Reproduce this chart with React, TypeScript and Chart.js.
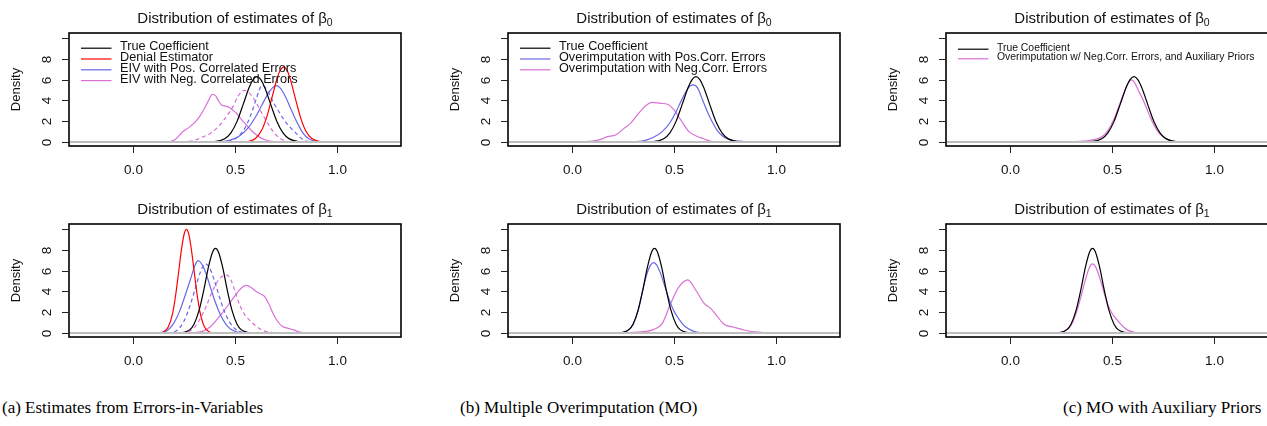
import React, { useEffect, useRef } from "react";
import { Chart, registerables } from "chart.js";

Chart.register(...registerables);

type Pt = [number, number];

// ---------- axis ticks ----------
const xTickValues = [0, 0.5, 1.0];
const xTickLabels = ["0.0", "0.5", "1.0"];
const yTickValues = [0, 2, 4, 6, 8, 10];
const yTickLabels = ["0", "2", "4", "6", "8", ""];

// ---------- density curves, beta0 ----------
const trueB0: Pt[] = [
  [0.35, 0], [0.4, 0.03], [0.45, 0.31], [0.48, 0.87], [0.51, 1.98], [0.54, 3.61], [0.57, 5.28],
  [0.59, 6.04], [0.607, 6.27], [0.625, 6.02], [0.645, 5.24], [0.675, 3.57], [0.705, 1.94],
  [0.735, 0.85], [0.765, 0.3], [0.81, 0.04], [0.86, 0],
];
const denialB0: Pt[] = [
  [0.54, 0], [0.56, 0.04], [0.6, 0.34], [0.63, 1.12], [0.655, 2.41], [0.68, 4.24], [0.705, 6.08],
  [0.72, 6.86], [0.737, 7.2], [0.755, 6.84], [0.77, 6.01], [0.795, 4.15], [0.82, 2.34],
  [0.845, 1.08], [0.875, 0.33], [0.92, 0.03], [0.94, 0],
];
const eivPosB0: Pt[] = [
  [0.42, 0], [0.44, 0.03], [0.48, 0.2], [0.52, 0.55], [0.56, 1.25], [0.6, 2.4], [0.63, 3.5],
  [0.66, 4.6], [0.685, 5.25], [0.7, 5.42], [0.72, 5.2], [0.745, 4.4], [0.77, 3.3], [0.79, 2.4],
  [0.81, 1.6], [0.83, 0.9], [0.86, 0.3], [0.9, 0.03], [0.92, 0],
];
const eivPosDashB0: Pt[] = [
  [0.43, 0], [0.45, 0.03], [0.49, 0.2], [0.52, 0.6], [0.55, 1.4], [0.575, 2.5], [0.6, 3.9],
  [0.615, 4.8], [0.63, 5.4], [0.645, 5.3], [0.665, 4.7], [0.69, 3.7], [0.715, 2.9], [0.74, 2.1],
  [0.765, 1.5], [0.79, 1.0], [0.815, 0.5], [0.84, 0.15], [0.87, 0.02], [0.89, 0],
];
const eivNegB0: Pt[] = [
  [0.17, 0], [0.205, 0.19], [0.246, 1.0], [0.279, 1.45], [0.305, 1.9], [0.327, 2.44], [0.35, 3.2],
  [0.368, 3.88], [0.39, 4.58], [0.405, 4.45], [0.417, 4.04], [0.434, 3.56], [0.466, 3.38],
  [0.49, 3.05], [0.507, 2.76], [0.53, 2.2], [0.556, 1.63], [0.58, 1.1], [0.605, 0.67],
  [0.63, 0.35], [0.653, 0.17], [0.69, 0.03], [0.72, 0],
];
const eivNegDashB0: Pt[] = [
  [0.24, 0], [0.26, 0.02], [0.3, 0.15], [0.34, 0.45], [0.38, 0.85], [0.42, 1.5], [0.46, 2.5],
  [0.49, 3.4], [0.515, 4.4], [0.545, 4.95], [0.57, 4.7], [0.6, 3.9], [0.63, 2.8], [0.66, 1.8],
  [0.69, 0.9], [0.72, 0.35], [0.75, 0.08], [0.78, 0.01], [0.8, 0],
];
const moPosB0: Pt[] = [
  [0.29, 0], [0.31, 0.02], [0.36, 0.15], [0.4, 0.45], [0.44, 0.95], [0.48, 1.85], [0.51, 2.9],
  [0.535, 3.95], [0.56, 4.9], [0.58, 5.4], [0.595, 5.48], [0.615, 5.2], [0.64, 4.0],
  [0.665, 2.8], [0.69, 1.8], [0.715, 1.0], [0.745, 0.45], [0.78, 0.18], [0.82, 0.08],
  [0.87, 0.01], [0.9, 0],
];
const moNegB0: Pt[] = [
  [0.0, 0], [0.05, 0.02], [0.109, 0.1], [0.15, 0.3], [0.174, 0.51], [0.215, 0.67], [0.256, 1.31],
  [0.288, 1.79], [0.321, 2.6], [0.362, 3.49], [0.394, 3.81], [0.435, 3.71], [0.468, 3.62],
  [0.5, 3.08], [0.533, 2.12], [0.573, 0.99], [0.606, 0.6], [0.647, 0.29], [0.688, 0.03], [0.73, 0],
];
const auxB0: Pt[] = [
  [0.28, 0], [0.3, 0.02], [0.36, 0.08], [0.41, 0.2], [0.45, 0.5], [0.48, 1.1], [0.51, 2.2],
  [0.535, 3.5], [0.56, 4.8], [0.58, 5.7], [0.595, 5.96], [0.61, 5.7], [0.63, 4.9], [0.655, 3.9],
  [0.68, 2.7], [0.705, 1.6], [0.73, 0.85], [0.76, 0.35], [0.79, 0.12], [0.83, 0.02], [0.86, 0],
];

// ---------- density curves, beta1 ----------
const trueB1: Pt[] = [
  [0.23, 0], [0.25, 0.06], [0.28, 0.32], [0.3, 0.84], [0.325, 2.19], [0.35, 4.33], [0.37, 6.3],
  [0.39, 7.74], [0.405, 8.12], [0.42, 7.74], [0.44, 6.3], [0.46, 4.33], [0.485, 2.19],
  [0.51, 0.84], [0.53, 0.32], [0.56, 0.06], [0.59, 0],
];
const denialB1: Pt[] = [
  [0.13, 0], [0.15, 0.1], [0.175, 0.59], [0.195, 1.83], [0.21, 3.58], [0.225, 5.86], [0.24, 8.2],
  [0.252, 9.51], [0.263, 9.95], [0.275, 9.45], [0.288, 7.9], [0.3, 6.04], [0.315, 3.7],
  [0.33, 1.93], [0.35, 0.63], [0.375, 0.1], [0.4, 0],
];
const eivPosB1: Pt[] = [
  [0.11, 0], [0.13, 0.02], [0.17, 0.25], [0.2, 0.9], [0.23, 2.1], [0.26, 3.8], [0.285, 5.3],
  [0.305, 6.5], [0.32, 6.95], [0.335, 6.7], [0.355, 5.9], [0.38, 4.4], [0.405, 2.9], [0.43, 1.7],
  [0.455, 0.85], [0.48, 0.35], [0.51, 0.08], [0.54, 0],
];
const eivPosDashB1: Pt[] = [
  [0.17, 0], [0.19, 0.03], [0.22, 0.3], [0.25, 1.1], [0.28, 2.6], [0.305, 4.2], [0.33, 5.8],
  [0.355, 6.65], [0.375, 6.3], [0.4, 5.0], [0.425, 3.4], [0.45, 2.0], [0.475, 1.0], [0.5, 0.4],
  [0.53, 0.1], [0.56, 0],
];
const eivNegB1: Pt[] = [
  [0.27, 0], [0.29, 0.02], [0.34, 0.15], [0.38, 0.6], [0.41, 1.25], [0.445, 2.1], [0.475, 2.9],
  [0.515, 3.97], [0.535, 4.4], [0.556, 4.58], [0.58, 4.35], [0.605, 3.95], [0.63, 3.7],
  [0.645, 3.5], [0.665, 2.8], [0.685, 1.9], [0.705, 1.2], [0.73, 0.65], [0.76, 0.45],
  [0.785, 0.3], [0.81, 0.12], [0.84, 0.02], [0.86, 0],
];
const eivNegDashB1: Pt[] = [
  [0.24, 0], [0.26, 0.03], [0.3, 0.5], [0.335, 1.55], [0.36, 2.6], [0.385, 3.8], [0.41, 4.8],
  [0.435, 5.4], [0.458, 5.58], [0.48, 5.1], [0.5, 4.0], [0.525, 2.6], [0.55, 1.7], [0.575, 1.15],
  [0.6, 0.7], [0.63, 0.3], [0.66, 0.1], [0.7, 0],
];
const moPosB1: Pt[] = [
  [0.22, 0], [0.24, 0.03], [0.27, 0.2], [0.3, 0.8], [0.325, 2.2], [0.345, 3.9], [0.365, 5.5],
  [0.385, 6.5], [0.4, 6.76], [0.415, 6.55], [0.435, 5.7], [0.455, 4.5], [0.475, 3.3], [0.5, 2.1],
  [0.525, 1.3], [0.55, 0.7], [0.58, 0.3], [0.61, 0.08], [0.64, 0],
];
const moNegB1: Pt[] = [
  [0.22, 0], [0.24, 0.02], [0.337, 0.1], [0.402, 0.35], [0.443, 0.93], [0.484, 2.85],
  [0.525, 4.45], [0.568, 5.1], [0.606, 4.13], [0.647, 2.85], [0.679, 2.37], [0.712, 1.57],
  [0.744, 0.83], [0.793, 0.55], [0.842, 0.29], [0.891, 0.1], [0.956, 0.02], [0.98, 0],
];
const auxB1: Pt[] = [
  [0.21, 0], [0.23, 0.02], [0.27, 0.2], [0.3, 0.75], [0.325, 1.9], [0.35, 3.6], [0.37, 5.1],
  [0.39, 6.3], [0.405, 6.63], [0.42, 6.35], [0.44, 5.3], [0.46, 3.95], [0.48, 2.7], [0.5, 1.9],
  [0.525, 1.25], [0.55, 0.7], [0.575, 0.3], [0.6, 0.1], [0.64, 0],
];

// ---------- text ----------
const legendA = [
  "True Coefficient",
  "Denial Estimator",
  "EIV with Pos. Correlated Errors",
  "EIV with Neg. Correlated Errors",
];
const legendB = [
  "True Coefficient",
  "Overimputation with Pos.Corr. Errors",
  "Overimputation with Neg.Corr. Errors",
];
const legendC = ["True Coefficient", "Overimputation w/ Neg.Corr. Errors, and Auxiliary Priors"];
const captions = [
  "(a) Estimates from Errors-in-Variables",
  "(b) Multiple Overimputation (MO)",
  "(c) MO with Auxiliary Priors",
];

const BLACK = "#000000";
const RED = "#ff0000";
const BLUE = "#6868e8";
const ORCHID = "#da70d6";
const SANS = '"Liberation Sans", Arial, sans-serif';

type Series = { pts: Pt[]; color: string; dash?: boolean };
type LegendSpec = { labels: string[]; colors: string[]; font: number; rowH: number; rowTop: number };

type PanelSpec = {
  left: number;
  top: number;
  padTop: number;
  sub: string;
  series: Series[];
  legend?: LegendSpec;
};

const CANVAS_W = 420;
const CANVAS_H = 190;
const BOX_W = 332;
const BOX_H = 113;
const PAD_LEFT = 69;

const legendSpecA: LegendSpec = { labels: legendA, colors: [BLACK, RED, BLUE, ORCHID], font: 12.7, rowH: 10.8, rowTop: 13.7 };
const legendSpecB: LegendSpec = { labels: legendB, colors: [BLACK, BLUE, ORCHID], font: 12.7, rowH: 10.8, rowTop: 13.7 };
const legendSpecC: LegendSpec = { labels: legendC, colors: [BLACK, ORCHID], font: 10.4, rowH: 9.6, rowTop: 14.7 };

const panels: PanelSpec[] = [
  {
    left: 0, top: 0, padTop: 33, sub: "0", legend: legendSpecA,
    series: [
      { pts: trueB0, color: BLACK }, { pts: denialB0, color: RED },
      { pts: eivPosB0, color: BLUE }, { pts: eivPosDashB0, color: BLUE, dash: true },
      { pts: eivNegB0, color: ORCHID }, { pts: eivNegDashB0, color: ORCHID, dash: true },
    ],
  },
  {
    left: 0, top: 190, padTop: 34, sub: "1",
    series: [
      { pts: trueB1, color: BLACK }, { pts: denialB1, color: RED },
      { pts: eivPosB1, color: BLUE }, { pts: eivPosDashB1, color: BLUE, dash: true },
      { pts: eivNegB1, color: ORCHID }, { pts: eivNegDashB1, color: ORCHID, dash: true },
    ],
  },
  {
    left: 439, top: 0, padTop: 33, sub: "0", legend: legendSpecB,
    series: [
      { pts: trueB0, color: BLACK }, { pts: moPosB0, color: BLUE }, { pts: moNegB0, color: ORCHID },
    ],
  },
  {
    left: 439, top: 190, padTop: 34, sub: "1",
    series: [
      { pts: trueB1, color: BLACK }, { pts: moPosB1, color: BLUE }, { pts: moNegB1, color: ORCHID },
    ],
  },
  {
    left: 877, top: 0, padTop: 33, sub: "0", legend: legendSpecC,
    series: [{ pts: trueB0, color: BLACK }, { pts: auxB0, color: ORCHID }],
  },
  {
    left: 877, top: 190, padTop: 34, sub: "1",
    series: [{ pts: trueB1, color: BLACK }, { pts: auxB1, color: ORCHID }],
  },
];

function makeDecor(spec: PanelSpec) {
  return {
    id: "rdecor",
    afterDraw(chart: any) {
      const { ctx, chartArea: a, scales } = chart;
      const xs = scales.x;
      const ys = scales.y;
      ctx.save();
      // zero line
      const y0 = ys.getPixelForValue(0);
      ctx.strokeStyle = "#bebebe";
      ctx.lineWidth = 2;
      ctx.beginPath();
      ctx.moveTo(a.left, y0);
      ctx.lineTo(a.right, y0);
      ctx.stroke();
      // box
      ctx.strokeStyle = "#000";
      ctx.lineWidth = 1.6;
      ctx.strokeRect(a.left, a.top, a.right - a.left, a.bottom - a.top);
      // x ticks
      ctx.lineWidth = 1;
      ctx.strokeStyle = "#222";
      ctx.fillStyle = "#111";
      ctx.font = `13.5px ${SANS}`;
      ctx.textAlign = "center";
      ctx.textBaseline = "middle";
      xTickValues.forEach((v, i) => {
        const px = Math.round(xs.getPixelForValue(v)) + 0.5;
        ctx.beginPath();
        ctx.moveTo(px, a.bottom);
        ctx.lineTo(px, a.bottom + 7);
        ctx.stroke();
        ctx.fillText(xTickLabels[i], px, a.bottom + 24.5);
      });
      // y ticks
      yTickValues.forEach((v, i) => {
        const py = Math.round(ys.getPixelForValue(v)) + 0.5;
        ctx.beginPath();
        ctx.moveTo(a.left, py);
        ctx.lineTo(a.left - 7, py);
        ctx.stroke();
        if (yTickLabels[i]) {
          ctx.save();
          ctx.translate(a.left - 21.5, py);
          ctx.rotate(-Math.PI / 2);
          ctx.fillText(yTickLabels[i], 0, 0);
          ctx.restore();
        }
      });
      // y label
      ctx.font = `13px ${SANS}`;
      ctx.save();
      ctx.translate(a.left - 52.5, (a.top + a.bottom) / 2);
      ctx.rotate(-Math.PI / 2);
      ctx.fillText("Density", 0, 0);
      ctx.restore();
      // title with subscript
      const main = "Distribution of estimates of \u03b2";
      ctx.font = `15px ${SANS}`;
      const w1 = ctx.measureText(main).width;
      ctx.font = `10.5px ${SANS}`;
      const w2 = ctx.measureText(spec.sub).width;
      const cx = (a.left + a.right) / 2;
      const start = cx - (w1 + w2) / 2;
      const base = a.top - 10.5;
      ctx.textAlign = "left";
      ctx.textBaseline = "alphabetic";
      ctx.font = `15px ${SANS}`;
      ctx.fillText(main, start, base);
      ctx.font = `10.5px ${SANS}`;
      ctx.fillText(spec.sub, start + w1, base + 3.5);
      // legend
      const lg = spec.legend;
      if (lg) {
        ctx.font = `${lg.font}px ${SANS}`;
        ctx.textBaseline = "middle";
        lg.labels.forEach((lab, i) => {
          const ry = a.top + lg.rowTop + i * lg.rowH;
          ctx.strokeStyle = lg.colors[i];
          ctx.lineWidth = 1.2;
          ctx.beginPath();
          ctx.moveTo(a.left + 12, ry + 1.5);
          ctx.lineTo(a.left + 42.5, ry + 1.5);
          ctx.stroke();
          ctx.fillStyle = "#111";
          ctx.fillText(lab, a.left + 51, ry);
        });
      }
      ctx.restore();
    },
  };
}

function Panel({ spec }: { spec: PanelSpec }) {
  const ref = useRef<HTMLCanvasElement>(null);
  useEffect(() => {
    const canvas = ref.current;
    if (!canvas) return;
    const chart = new Chart(canvas, {
      type: "line",
      data: {
        datasets: spec.series.map((s) => ({
          data: s.pts.map(([x, y]) => ({ x, y })),
          borderColor: s.color,
          borderWidth: 1.2,
          borderDash: s.dash ? [4, 3] : [],
          pointRadius: 0,
          tension: 0.4,
          cubicInterpolationMode: "monotone",
          fill: false,
        })),
      },
      options: {
        responsive: false,
        animation: false,
        events: [],
        layout: {
          padding: {
            left: PAD_LEFT,
            right: CANVAS_W - PAD_LEFT - BOX_W,
            top: spec.padTop,
            bottom: CANVAS_H - spec.padTop - BOX_H,
          },
        },
        plugins: {
          legend: { display: false },
          tooltip: { enabled: false },
          title: { display: false },
        },
        scales: {
          x: { type: "linear", min: -0.31, max: 1.31, display: false },
          y: { type: "linear", min: -0.385, max: 10.47, display: false },
        },
      },
      plugins: [makeDecor(spec)],
    } as any);
    return () => chart.destroy();
  }, [spec]);
  return (
    <canvas
      ref={ref}
      width={CANVAS_W}
      height={CANVAS_H}
      style={{ position: "absolute", left: spec.left, top: spec.top, width: CANVAS_W, height: CANVAS_H }}
    />
  );
}

const captionLefts = [2, 460, 1063];

export default function App() {
  return (
    <div
      style={{
        position: "absolute",
        left: 0,
        top: 0,
        width: 1267,
        height: 426,
        overflow: "hidden",
        background: "#fff",
      }}
    >
      {panels.map((p, i) => (
        <Panel key={i} spec={p} />
      ))}
      {captions.map((c, i) => (
        <div
          key={i}
          style={{
            position: "absolute",
            left: captionLefts[i],
            top: 399,
            fontFamily: '"Liberation Serif", "DejaVu Serif", serif',
            fontSize: 17,
            lineHeight: "17px",
            whiteSpace: "nowrap",
            color: "#000",
          }}
        >
          {c}
        </div>
      ))}
    </div>
  );
}
